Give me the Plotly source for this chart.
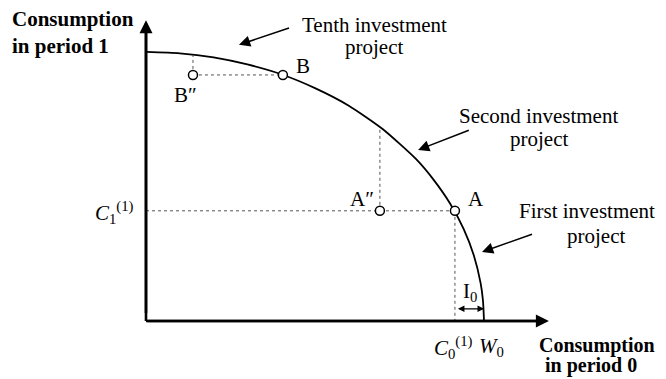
import plotly.graph_objects as go

# ---------------- data (consumption units) ----------------
W0 = 100.0
frontier_x = [0, 10, 20, 30, 40, 50, 60, 70, 80, 85, 90, 94, 97, 99, 99.7, 100]
frontier_y = [79.6, 79.2, 78.0, 75.9, 73.0, 68.9, 63.7, 56.8, 47.8, 41.9, 34.7, 27.2, 19.4, 11.2, 6.0, 0]

point_names = ["A", "A″", "B", "B″"]
point_x = [91.4, 69.2, 40.5, 13.9]
point_y = [32.6, 32.6, 72.8, 72.8]

C0_1 = 91.4          # consumption in period 0 at A
C1_1 = 32.6          # consumption in period 1 at A
A2_top = 56.8        # frontier height above A''
B2_top = 78.5        # frontier height above B''
I0_level = 3.6

x_axis_end = 119.2
y_axis_end = 89.0

FONT = "Liberation Serif, Times New Roman, serif"
FS = 21

# page has an 8px body margin: the figure is placed so the origin lands at (146, 321) on screen
SCALE = 3.38
OX, OY = 146 - 8, 321 - 8
FIG_W, FIG_H = 658, 371
RIGHT_EDGE = 151.2   # rightmost visible text edge

fig = go.Figure()

# dotted guide lines
dot = dict(color="#555555", width=1, dash="dot")
fig.add_trace(go.Scatter(x=[0, C0_1], y=[C1_1, C1_1], mode="lines", line=dot, hoverinfo="skip"))
fig.add_trace(go.Scatter(x=[C0_1, C0_1], y=[C1_1, 0], mode="lines", line=dot, hoverinfo="skip"))
fig.add_trace(go.Scatter(x=[point_x[1], point_x[1]], y=[C1_1, A2_top], mode="lines", line=dot, hoverinfo="skip"))
fig.add_trace(go.Scatter(x=[point_x[3], point_x[2]], y=[point_y[3], point_y[3]], mode="lines", line=dot, hoverinfo="skip"))
fig.add_trace(go.Scatter(x=[point_x[3], point_x[3]], y=[point_y[3], B2_top], mode="lines", line=dot, hoverinfo="skip"))

# production frontier
fig.add_trace(go.Scatter(x=frontier_x, y=frontier_y, mode="lines",
                         line=dict(color="black", width=1.8, shape="spline", smoothing=0.6),
                         hoverinfo="skip"))

# points
fig.add_trace(go.Scatter(x=point_x, y=point_y, mode="markers",
                         marker=dict(size=9, color="white", line=dict(color="black", width=1.5)),
                         hoverinfo="skip"))

ann = []
# axes with arrowheads
ann.append(dict(x=0, y=y_axis_end, ax=0, ay=-0.6, axref="x", ayref="y", xref="x", yref="y",
                text=" ", showarrow=True, arrowhead=2, arrowsize=1, arrowwidth=2.6, arrowcolor="black"))
ann.append(dict(x=x_axis_end, y=0, ax=-0.5, ay=0, axref="x", ayref="y", xref="x", yref="y",
                text=" ", showarrow=True, arrowhead=2, arrowsize=1, arrowwidth=2.6, arrowcolor="black"))

# pointer arrows
pointers = [((43.2, 87.0), (27.5, 81.7)),
            ((96.4, 56.8), (80.5, 50.6)),
            ((115.1, 26.0), (99.4, 20.4))]
for (tx, ty), (hx, hy) in pointers:
    ann.append(dict(x=hx, y=hy, ax=tx, ay=ty, axref="x", ayref="y", xref="x", yref="y",
                    text=" ", showarrow=True, arrowhead=2, arrowsize=1.5, arrowwidth=1.5,
                    arrowcolor="black"))

# I0 double arrow
ann.append(dict(x=W0, y=I0_level, ax=C0_1, ay=I0_level, axref="x", ayref="y", xref="x", yref="y",
                text=" ", showarrow=True, arrowhead=2, startarrowhead=2, arrowside="end+start",
                arrowsize=1, startarrowsize=1, arrowwidth=1.3, arrowcolor="black"))

def label(x, y, text, xanchor="center", bold=False, size=FS):
    t = f"<b>{text}</b>" if bold else text
    ann.append(dict(x=x, y=y, xref="x", yref="y", text=t, showarrow=False,
                    xanchor=xanchor, yanchor="middle",
                    font=dict(family=FONT, size=size, color="black")))

label(67.5, 87.6, "Tenth investment")
label(67.5, 81.1, "project")
label(116.0, 60.7, "Second investment")
label(116.3, 53.8, "project")
label(RIGHT_EDGE, 32.5, "First investment", xanchor="right")
label(133.1, 25.1, "project")
label(46.4, 75.4, "B")
label(11.8, 66.9, "B″")
label(63.9, 36.1, "A″")
label(97.6, 36.1, "A")
label(95.9, 8.6, "I<sub>0</sub>")
label(-3.0, 32.2, "<i>C</i><sub>1</sub><sup>(1)</sup>", xanchor="right")
label(91.1, -7.7, "<i>C</i><sub>0</sub><sup>(1)</sup>")
label(102.3, -7.7, "<i>W</i><sub>0</sub>")
label(-40.2, 89.3, "Consumption", xanchor="left", bold=True)
label(-40.2, 81.4, "in period 1", xanchor="left", bold=True)
label(RIGHT_EDGE, -7.1, "Consumption", xanchor="right", bold=True, size=20)
label(117.5, -13.3, "in period 0", xanchor="left", bold=True, size=20)

fig.update_layout(
    width=FIG_W, height=FIG_H, autosize=False,
    margin=dict(l=0, r=0, t=0, b=0, pad=0),
    paper_bgcolor="white", plot_bgcolor="white",
    showlegend=False,
    annotations=ann,
    xaxis=dict(range=[-OX / SCALE, (FIG_W - OX) / SCALE], visible=False, fixedrange=True),
    yaxis=dict(range=[-(FIG_H - OY) / SCALE, OY / SCALE], visible=False, fixedrange=True),
    shapes=[
        dict(type="line", xref="x", yref="y", x0=0, y0=0, x1=0, y1=y_axis_end - 3,
             line=dict(color="black", width=2.6)),
        dict(type="line", xref="x", yref="y", x0=0, y0=0, x1=x_axis_end - 3, y1=0,
             line=dict(color="black", width=2.6)),
    ],
)

fig.write_html("out.html", config={"displayModeBar": False})
